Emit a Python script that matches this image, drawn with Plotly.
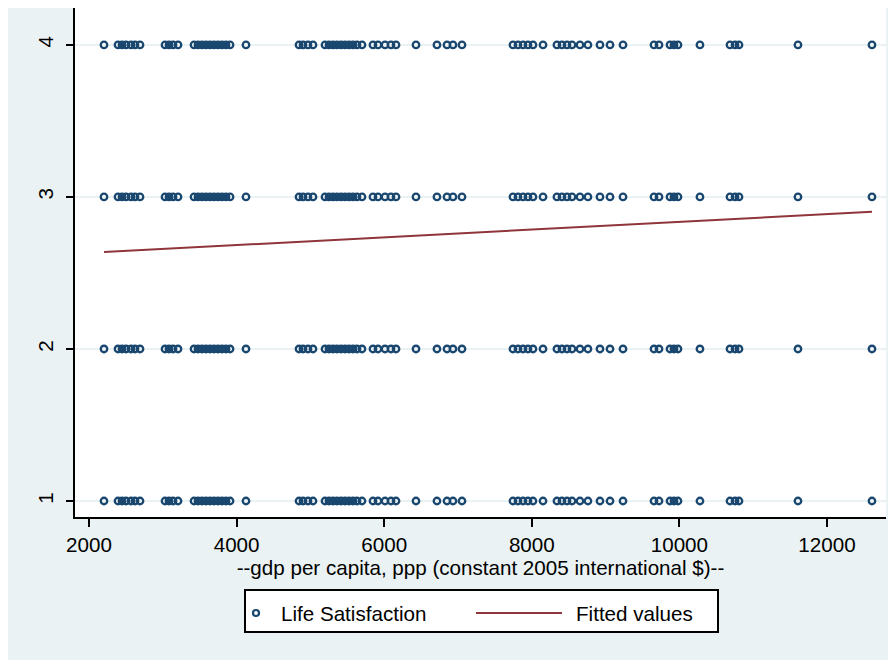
import plotly.graph_objects as go

# GDP per capita values (one per country), each observed at every satisfaction level
gdp = [2203, 2393, 2447, 2501, 2569, 2623, 2691,
       3030, 3084, 3138, 3206,
       3423, 3477, 3531, 3585, 3640, 3694, 3748, 3802, 3856, 3911,
       4127,
       4846, 4900, 4967, 5035,
       5198, 5252, 5306, 5360, 5415, 5469, 5523, 5577, 5631, 5699,
       5848, 5916, 6011, 6092, 6160,
       6431,
       6715, 6851, 6932, 7054,
       7745, 7813, 7881, 7948, 8016,
       8152,
       8341, 8409, 8477, 8545,
       8653,
       8761, 8924, 9060, 9236,
       9656, 9724,
       9873, 9927, 9981,
       10279,
       10686, 10754, 10808,
       11607,
       12610]
levels = [1, 2, 3, 4]

# fitted line (linear fit)
fit_intercept = 2.582
fit_slope = 2.54e-5

xticks = [2000, 4000, 6000, 8000, 10000, 12000]
yticks = [1, 2, 3, 4]
series_names = ["Life Satisfaction", "Fitted values"]
x_title = "--gdp per capita, ppp (constant 2005 international $)--"

sx = []
sy = []
for lv in levels:
    for g in gdp:
        sx.append(g)
        sy.append(lv)

fx = sorted(gdp)
fy = [fit_intercept + fit_slope * v for v in fx]

NAVY = "#1a476f"
MAROON = "#90353b"
BG = "#eaf2f3"
FONT = "Liberation Sans, Arial, sans-serif"
FS = 20.6

W, H = 896, 660
ML, MR, MT, MB = 67, 18, 0, 151
PW, PH = W - ML - MR, H - MT - MB


def px(xp):
    return (xp - ML) / PW


def py(yp):
    return (H - MB - yp) / PH


fig = go.Figure()
fig.add_trace(go.Scatter(
    x=sx, y=sy, mode="markers", name=series_names[0], showlegend=False,
    marker=dict(symbol="circle-open", size=6.5, color=NAVY, line=dict(width=2.3, color=NAVY)),
))
fig.add_trace(go.Scatter(
    x=fx, y=fy, mode="lines", name=series_names[1], showlegend=False,
    line=dict(color=MAROON, width=2),
))

# legend drawn by hand (Stata style, long line key)
ly = 605
shapes = [
    dict(type="rect", xref="paper", yref="paper", x0=px(237), x1=px(710), y0=py(624), y1=py(582),
         line=dict(color="black", width=2), fillcolor="white", layer="above"),
    dict(type="circle", xref="paper", yref="paper", xsizemode="pixel", ysizemode="pixel",
         xanchor=px(248), yanchor=py(ly), x0=-3, x1=3, y0=-3, y1=3,
         line=dict(color=NAVY, width=2.2), layer="above"),
    dict(type="line", xref="paper", yref="paper", x0=px(468), x1=px(554), y0=py(ly), y1=py(ly),
         line=dict(color=MAROON, width=2), layer="above"),
]
annotations = [
    dict(xref="paper", yref="paper", x=px(271), y=py(ly), text=series_names[0], showarrow=False,
         xanchor="left", yanchor="middle", font=dict(family=FONT, size=FS, color="black")),
    dict(xref="paper", yref="paper", x=px(566), y=py(ly), text=series_names[1], showarrow=False,
         xanchor="left", yanchor="middle", font=dict(family=FONT, size=FS, color="black")),
]

fig.update_layout(
    width=W, height=H,
    paper_bgcolor=BG, plot_bgcolor="white",
    margin=dict(l=ML, r=MR, t=MT, b=MB, autoexpand=False),
    font=dict(family=FONT, size=FS, color="black"),
    showlegend=False,
    shapes=shapes, annotations=annotations,
)
fig.update_xaxes(
    range=[1810, 12800], tickvals=xticks, ticktext=[str(v) for v in xticks],
    showgrid=False, zeroline=False,
    showline=True, linecolor="black", linewidth=2,
    ticks="outside", ticklen=8, tickwidth=2, tickcolor="black",
    tickfont=dict(family=FONT, size=FS, color="black"),
    title=dict(text=x_title, font=dict(family=FONT, size=FS, color="black"), standoff=0),
    automargin=False,
)
fig.update_yaxes(
    range=[0.8947, 4.243], tickvals=yticks, ticktext=[str(v) for v in yticks],
    showgrid=True, gridcolor=BG, gridwidth=2, zeroline=False,
    showline=True, linecolor="black", linewidth=2,
    ticks="outside", ticklen=7, tickwidth=2, tickcolor="black",
    tickangle=-90, ticklabelstandoff=5,
    tickfont=dict(family=FONT, size=FS, color="black"),
    automargin=False,
)

fig.write_html("out.html")
